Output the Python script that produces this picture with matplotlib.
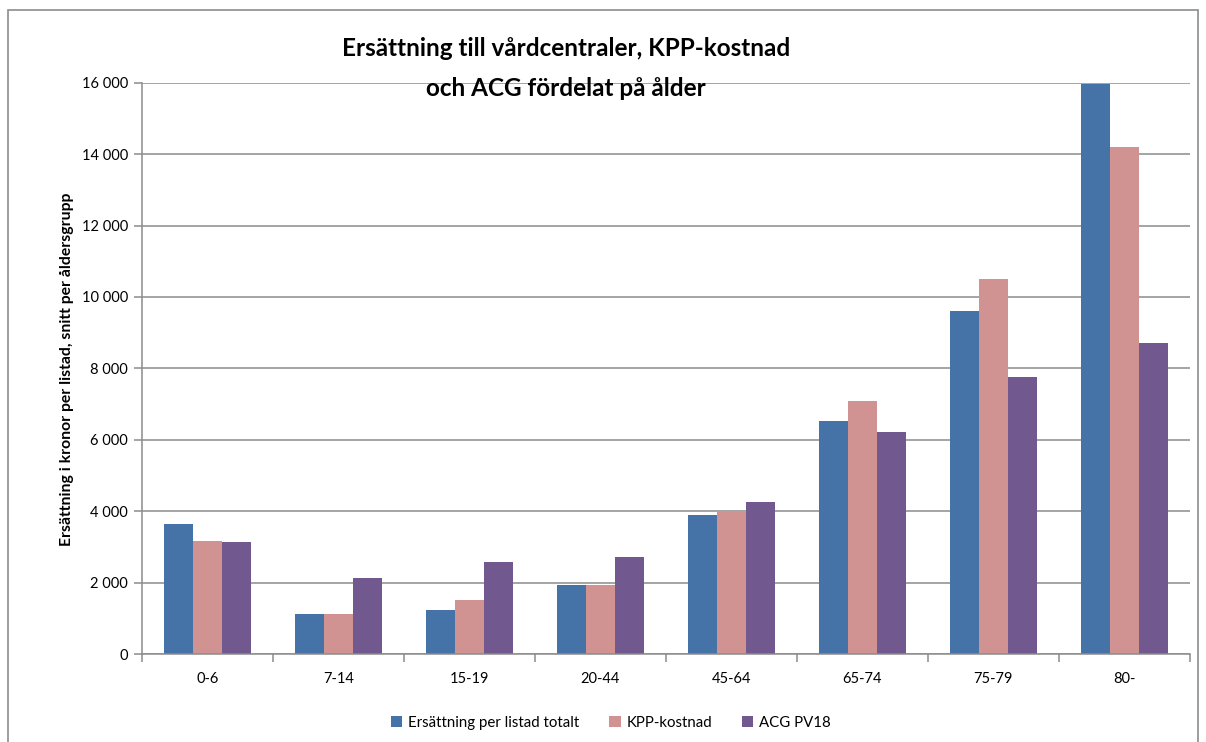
import matplotlib
matplotlib.use("Agg")
import matplotlib.pyplot as plt
import numpy as np
from matplotlib.ticker import FuncFormatter, FixedLocator
from matplotlib.patches import Rectangle

plt.rcParams['font.family'] = ['Lato', 'DejaVu Sans']

categories = ["0-6", "7-14", "15-19", "20-44", "45-64", "65-74", "75-79", "80-"]
ersattning = [3645, 1122, 1234, 1935, 3899, 6531, 9615, 15950]
kpp = [3170, 1122, 1515, 1935, 4011, 7092, 10512, 14212]
acg = [3142, 2132, 2581, 2721, 4264, 6223, 7765, 8718]
series_names = ["Ersättning per listad totalt", "KPP-kostnad", "ACG PV18"]
colors = ["#4673A7", "#D19392", "#71588F"]
yticks = [0, 2000, 4000, 6000, 8000, 10000, 12000, 14000, 16000]

W, H = 1206, 742
fig = plt.figure(figsize=(W / 100, H / 100), dpi=100)
fig.patches.append(Rectangle((8 / W, -0.01), (1198 - 8) / W, 1 - 10 / H + 0.01,
                             transform=fig.transFigure, fill=False,
                             edgecolor="#8c8c8c", linewidth=1.2))

ax = fig.add_axes([141.7 / W, 1 - 654 / H, (1189.7 - 141.7) / W, (654 - 82.7) / H])

x = np.arange(len(categories))
bw = 1 / 4.5
for i, (vals, name, col) in enumerate(zip([ersattning, kpp, acg], series_names, colors)):
    ax.bar(x + (i - 1) * bw, vals, width=bw, color=col, label=name, zorder=3)

ax.set_xlim(-0.5, len(categories) - 0.5)
ax.set_ylim(0, 16000)
ax.set_yticks(yticks)
ax.yaxis.set_major_formatter(FuncFormatter(lambda v, p: f"{int(v):,}".replace(",", " ")))
ax.grid(axis="y", color="#8c8c8c", linewidth=1.1, zorder=0)
ax.set_axisbelow(True)

ax.set_xticks(x)
ax.set_xticklabels(categories)
ax.xaxis.set_minor_locator(FixedLocator(np.arange(-0.5, len(categories), 1.0)))
ax.tick_params(axis="x", which="major", length=0, pad=13, labelsize=10.5, colors="#000000")
ax.tick_params(axis="x", which="minor", length=6, color="#8c8c8c", width=1.1)
ax.tick_params(axis="y", length=6, color="#8c8c8c", width=1.1, labelsize=10.5, pad=4)

for s in ["top", "right"]:
    ax.spines[s].set_visible(False)
for s in ["left", "bottom"]:
    ax.spines[s].set_color("#8c8c8c")
    ax.spines[s].set_linewidth(1.1)
ax.spines["bottom"].set_zorder(4)

fig.text(67 / W, 1 - 369.5 / H, "Ersättning i kronor per listad, snitt per åldersgrupp",
         rotation=90, ha="center", va="center", fontsize=11.3, fontweight="bold")

fig.text(566 / W, 1 - 48 / H, "Ersättning till vårdcentraler, KPP-kostnad",
         ha="center", va="center", fontsize=17.5, fontweight="bold", zorder=10)
fig.text(566 / W, 1 - 89 / H, "och ACG fördelat på ålder",
         ha="center", va="center", fontsize=17.5, fontweight="bold", zorder=10)

leg = fig.legend(loc="center", bbox_to_anchor=(611 / W, 1 - 723 / H), ncol=3,
                 frameon=False, fontsize=10.8, handlelength=0.75, handleheight=0.75,
                 handletextpad=0.4, columnspacing=2.0)

fig.savefig("out.png", dpi=100)
